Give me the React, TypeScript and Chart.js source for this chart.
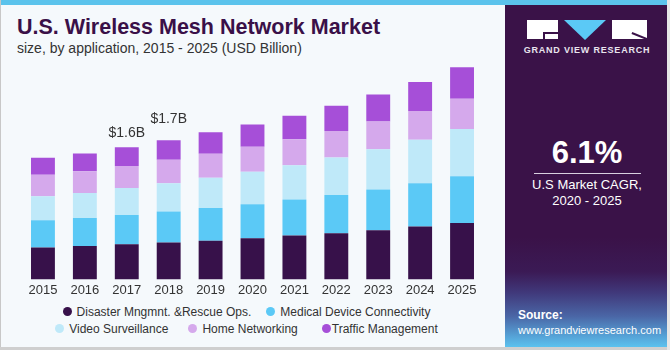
import React, { useEffect, useRef } from "react";
import { Chart, registerables } from "chart.js";

Chart.register(...registerables);

const years = ["2015", "2016", "2017", "2018", "2019", "2020", "2021", "2022", "2023", "2024", "2025"];
const disaster = [0.387, 0.406, 0.427, 0.448, 0.472, 0.5, 0.533, 0.561, 0.598, 0.643, 0.687];
const medical = [0.333, 0.341, 0.357, 0.378, 0.398, 0.415, 0.439, 0.467, 0.496, 0.528, 0.57];
const video = [0.293, 0.305, 0.329, 0.345, 0.366, 0.394, 0.418, 0.456, 0.491, 0.528, 0.573];
const homeNet = [0.26, 0.265, 0.268, 0.284, 0.293, 0.305, 0.317, 0.321, 0.338, 0.35, 0.37];
const traffic = [0.207, 0.216, 0.228, 0.24, 0.261, 0.273, 0.284, 0.309, 0.329, 0.354, 0.383];
const seriesNames = [
  "Disaster Mngmnt. &Rescue Ops.",
  "Medical Device Connectivity",
  "Video Surveillance",
  "Home Networking",
  "Traffic Management",
];
const calloutIndex = [2, 3];
const calloutText = ["$1.6B", "$1.7B"];

const colors = ["#37114a", "#5bc9f6", "#bfe9f9", "#d5a9ec", "#a64fd8"];
const FONT = "'Liberation Sans', Arial, sans-serif";

const calloutPlugin = {
  id: "callouts",
  afterDatasetsDraw(chart: any) {
    const meta = chart.getDatasetMeta(chart.data.datasets.length - 1);
    const offsets = [14, 21];
    const ctx = chart.ctx;
    ctx.save();
    ctx.font = `14px ${FONT}`;
    ctx.fillStyle = "#333333";
    ctx.textAlign = "center";
    ctx.textBaseline = "middle";
    calloutIndex.forEach((idx, i) => {
      const el = meta.data[idx];
      if (!el) return;
      ctx.fillText(calloutText[i], el.x, el.y - offsets[i]);
    });
    ctx.restore();
  },
};

function ChartCanvas() {
  const ref = useRef<HTMLCanvasElement | null>(null);
  useEffect(() => {
    if (!ref.current) return;
    const data = [disaster, medical, video, homeNet, traffic];
    const chart = new Chart(ref.current, {
      type: "bar",
      data: {
        labels: years,
        datasets: data.map((d, i) => ({
          label: seriesNames[i],
          data: d,
          backgroundColor: colors[i],
          borderWidth: 0,
          barPercentage: 0.57,
          categoryPercentage: 1,
        })),
      },
      options: {
        responsive: false,
        animation: false,
        layout: { padding: { left: 22, right: 22, top: 2.6, bottom: 0 } },
        plugins: { legend: { display: false }, tooltip: { enabled: false } },
        scales: {
          x: {
            stacked: true,
            grid: { display: false, drawTicks: false, tickLength: 0 },
            border: { display: false },
            ticks: { color: "#333333", font: { family: FONT, size: 13 }, padding: 3 },
          },
          y: {
            stacked: true,
            display: false,
            min: 0,
            max: 2.7,
          },
        },
      },
      plugins: [calloutPlugin],
    });
    return () => chart.destroy();
  }, []);
  return (
    <canvas
      ref={ref}
      width={505}
      height={246}
      style={{ position: "absolute", left: 0, top: 55, width: 505, height: 246 }}
    />
  );
}

function Legend() {
  const rows = [
    [0, 1],
    [2, 3, 4],
  ];
  const gaps = [[0, 15], [0, 20, 24]];
  const textGap = [5, 5, 5, 5, 1];
  return (
    <div style={{ position: "absolute", left: 0, top: 303, width: 493 }}>
      {rows.map((row, r) => (
        <div
          key={r}
          style={{
            display: "flex",
            justifyContent: "center",
            alignItems: "center",
            height: 17,
            font: `12px ${FONT}`,
            color: "#333333",
            whiteSpace: "nowrap",
          }}
        >
          {row.map((s, j) => (
            <div key={s} style={{ display: "flex", alignItems: "center", marginLeft: gaps[r][j] }}>
              <span
                style={{
                  display: "inline-block",
                  width: 9,
                  height: 9,
                  borderRadius: "50%",
                  background: colors[s],
                  marginRight: textGap[s],
                }}
              />
              <span>{seriesNames[s]}</span>
            </div>
          ))}
        </div>
      ))}
    </div>
  );
}

function Panel() {
  return (
    <div
      style={{
        position: "absolute",
        left: 505,
        top: 5,
        width: 162,
        height: 342,
        background:
          "linear-gradient(to bottom, #3a1248 0%, #3a1248 68%, #3b1a55 78%, #40387a 84%, #4a66a6 91%, #56a4d8 97%, #5cc2ee 100%)",
        color: "#ffffff",
        fontFamily: FONT,
        overflow: "hidden",
      }}
    >
      {/* logo */}
      <div style={{ position: "absolute", left: 22, top: 15, width: 31, height: 19, background: "#ffffff" }}>
        <div style={{ position: "absolute", left: 16, top: 12, width: 15, height: 1.5, background: "#3a1248" }} />
        <div style={{ position: "absolute", left: 16, top: 12, width: 1.5, height: 7, background: "#3a1248" }} />
      </div>
      <div
        style={{
          position: "absolute",
          left: 59,
          top: 15,
          width: 0,
          height: 0,
          borderLeft: "21px solid transparent",
          borderRight: "21px solid transparent",
          borderTop: "20px solid #5bc9f6",
        }}
      />
      <div style={{ position: "absolute", left: 107, top: 15, width: 35, height: 19, background: "#ffffff", overflow: "hidden" }}>
        <div
          style={{
            position: "absolute",
            left: 20,
            top: 12,
            width: 17,
            height: 1.5,
            background: "#3a1248",
            transform: "rotate(22deg)",
            transformOrigin: "left center",
          }}
        />
      </div>
      <div
        style={{
          position: "absolute",
          left: 0,
          top: 40,
          width: 164,
          textAlign: "center",
          fontSize: 9,
          fontWeight: "bold",
          letterSpacing: 0.8,
          color: "#e8e4ee",
        }}
      >
        GRAND VIEW RESEARCH
      </div>
      <div
        style={{
          position: "absolute",
          left: 0,
          top: 130,
          width: 164,
          textAlign: "center",
          fontSize: 31,
          fontWeight: "bold",
          lineHeight: "36px",
        }}
      >
        6.1%
      </div>
      <div style={{ position: "absolute", left: 29, top: 168, width: 107, height: 1, background: "#d8d0e0" }} />
      <div
        style={{
          position: "absolute",
          left: 0,
          top: 172,
          width: 164,
          textAlign: "center",
          fontSize: 13,
          lineHeight: "16px",
        }}
      >
        U.S Market CAGR,
        <br />
        2020 - 2025
      </div>
      <div style={{ position: "absolute", left: 13, top: 303, fontSize: 11, lineHeight: "15px" }}>
        <div style={{ fontWeight: "bold", fontSize: 12 }}>Source:</div>
        <div>www.grandviewresearch.com</div>
      </div>
    </div>
  );
}

export default function App() {
  return (
    <div
      style={{
        position: "fixed",
        left: 0,
        top: 0,
        width: 670,
        height: 350,
        background: "#f5f9fc",
        overflow: "hidden",
        fontFamily: FONT,
      }}
    >
      <div style={{ position: "absolute", left: 0, top: 0, width: 667, height: 5, background: "#5bc3ec" }} />
      <div style={{ position: "absolute", left: 0, top: 0, width: 1, height: 350, background: "#c8c8c8" }} />
      <div style={{ position: "absolute", left: 0, top: 347, width: 670, height: 3, background: "#cfcfcf" }} />
      <div style={{ position: "absolute", left: 667, top: 0, width: 3, height: 350, background: "#e6e6e6" }} />
      <div
        style={{
          position: "absolute",
          left: 17,
          top: 15,
          fontSize: 21.5,
          fontWeight: "bold",
          color: "#3a1048",
          whiteSpace: "nowrap",
        }}
      >
        U.S. Wireless Mesh Network Market
      </div>
      <div
        style={{
          position: "absolute",
          left: 17,
          top: 40,
          fontSize: 14,
          color: "#333333",
          whiteSpace: "nowrap",
        }}
      >
        size, by application, 2015 - 2025 (USD Billion)
      </div>
      <ChartCanvas />
      <Legend />
      <Panel />
    </div>
  );
}
